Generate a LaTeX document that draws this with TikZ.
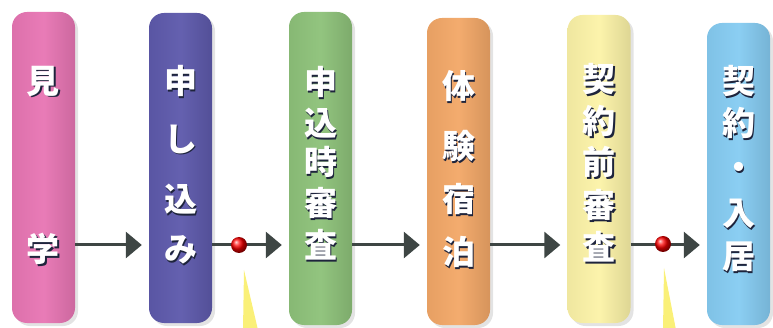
\documentclass[tikz,border=0pt]{standalone}
\usepackage{fontspec}
\usepackage{tikz}
\usetikzlibrary{arrows.meta,positioning,shapes,shadows}
\newfontfamily\jpfont{Noto Sans CJK JP}
\definecolor{barpink}{RGB}{232,118,180}
\definecolor{barpurple}{RGB}{94,90,172}
\definecolor{bargreen}{RGB}{142,194,122}
\definecolor{barorange}{RGB}{243,168,104}
\definecolor{baryellow}{RGB}{252,243,168}
\definecolor{barblue}{RGB}{134,204,242}
\definecolor{mojikage}{RGB}{30,36,60}
\definecolor{arrowgray}{RGB}{62,70,68}
\definecolor{callout}{RGB}{250,240,120}
\newcommand{\kage}[1]{\makebox[0pt][l]{\hspace{1.6pt}\raisebox{-1.6pt}{\color{mojikage}#1}}#1}

\begin{document}
\begin{tikzpicture}[x=1pt,y=-1pt,
  bar/.style={rectangle,rounded corners=15pt,minimum width=63pt,inner sep=0pt,
    left color=#1!95!black,right color=#1!88!black,middle color=#1!96!white,
    drop shadow={shadow xshift=3pt,shadow yshift=-3pt,opacity=.22}},
  moji/.style={inner sep=0pt,text=white,font=\jpfont\bfseries\fontsize{33}{33}\selectfont},
  yajirushi/.style={draw=arrowgray,line width=3pt,shorten >=7pt,
    -{Triangle[length=16pt,width=26pt,fill=arrowgray]}},
  reddot/.style={circle,ball color=red,minimum size=16pt,inner sep=0pt}]

  \useasboundingbox (0,0) rectangle (773,328);

  % Bars
  \node[bar=barpink,minimum height=311pt]   (kengaku)   at (43.5,167.5) {};
  \node[bar=barpurple,minimum height=310pt] (moushikomi) at (180.5,168) {};
  \node[bar=bargreen,minimum height=313pt]  (shinsa)    at (320.5,168.5) {};
  \node[bar=barorange,minimum height=307pt] (taiken)    at (458.5,171.5) {};
  \node[bar=baryellow,minimum height=308pt] (zenshinsa) at (599,169) {};
  \node[bar=barblue,minimum height=302pt]   (nyuukyo)   at (738.5,174) {};

  % Arrows
  \draw[yajirushi] (kengaku.east |- 0,245)    -- (moushikomi.west |- 0,245);
  \draw[yajirushi] (moushikomi.east |- 0,245) -- (shinsa.west |- 0,245);
  \draw[yajirushi] (shinsa.east |- 0,245)     -- (taiken.west |- 0,245);
  \draw[yajirushi] (taiken.east |- 0,245)     -- (zenshinsa.west |- 0,245);
  \draw[yajirushi] (zenshinsa.east |- 0,245)  -- (nyuukyo.west |- 0,245);

  % Red dots and callout tails
  \node[reddot] (ten1) at (239,245) {};
  \node[reddot] (ten2) at (663,244) {};
  \coordinate (fuki1) at (244,270);
  \coordinate (fuki2) at (664,268);
  \fill[callout] (fuki1) -- (243,330) -- (258,330) -- cycle;
  \fill[callout] (fuki2) -- (663,330) -- (676,330) -- cycle;

  % Labels
  \foreach \ch/\yy [count=\i] in {見/82,学/250}
    \node[moji] (kengaku-\i) at (kengaku.center |- 0,\yy) {\kage{\ch}};
  \foreach \ch/\yy [count=\i] in {申/82,し/140,込/200,み/251}
    \node[moji] (moushikomi-\i) at (moushikomi.center |- 0,\yy) {\kage{\ch}};
  \foreach \ch/\yy [count=\i] in {申/83,込/124,時/163,審/204,査/246}
    \node[moji] (shinsa-\i) at (shinsa.center |- 0,\yy) {\kage{\ch}};
  \foreach \ch/\yy [count=\i] in {体/87,験/147,宿/200,泊/253}
    \node[moji] (taiken-\i) at (taiken.center |- 0,\yy) {\kage{\ch}};
  \foreach \ch/\yy [count=\i] in {契/80,約/122,前/163,審/206,査/248}
    \node[moji] (zenshinsa-\i) at (zenshinsa.center |- 0,\yy) {\kage{\ch}};
  \foreach \ch/\yy [count=\i] in {契/82,約/124,・/172,入/215,居/258}
    \node[moji] (nyuukyo-\i) at (nyuukyo.center |- 0,\yy) {\kage{\ch}};
\end{tikzpicture}
\end{document}
